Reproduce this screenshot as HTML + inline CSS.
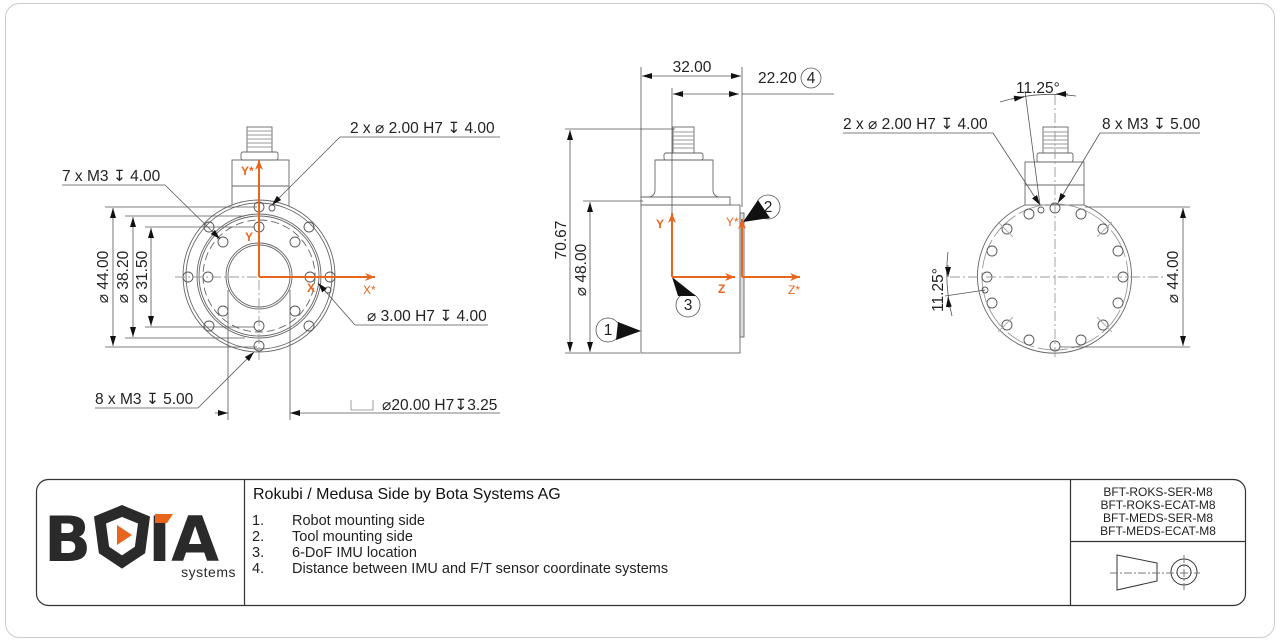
<!DOCTYPE html>
<html><head><meta charset="utf-8"><style>
html,body{margin:0;padding:0;background:#fff;width:1280px;height:643px;overflow:hidden}
svg{display:block}
text{font-family:"Liberation Sans","DejaVu Sans",sans-serif}
.d{font-size:15.5px;fill:#222}
.o{fill:#e8651e;font-size:12px;font-weight:bold}
</style></head><body>
<svg width="1280" height="643" viewBox="0 0 1280 643" xmlns="http://www.w3.org/2000/svg">
<defs>
<marker id="a" viewBox="0 0 10 6" refX="10" refY="3" markerWidth="10" markerHeight="6" orient="auto-start-reverse" markerUnits="userSpaceOnUse"><path d="M0,0L10,3L0,6z" fill="#111"/></marker>
<marker id="oa" viewBox="0 0 10 8" refX="10" refY="4" markerWidth="10" markerHeight="8" orient="auto" markerUnits="userSpaceOnUse"><path d="M0,0L10,4L0,8L3,4z" fill="#e8651e"/></marker>
</defs>
<rect x="5.5" y="3.5" width="1269" height="634" rx="14" fill="none" stroke="#ccc"/>

<!-- LEFT VIEW -->
<g fill="none" stroke="#666" stroke-width="0.9">
<rect x="232" y="160" width="57" height="47"/>
<line x1="232" y1="186" x2="289" y2="186"/>
<rect x="241" y="152" width="37" height="8" rx="2"/>
<rect x="247" y="127" width="25" height="25"/>
<path d="M247,131h25M247,135h25M247,139h25M247,143h25M247,147h25" stroke="#999"/>
<circle cx="259" cy="276" r="76" fill="#fff"/>
<circle cx="259" cy="276" r="73"/>
<circle cx="259" cy="276" r="62"/>
<circle cx="259" cy="276" r="60"/>
<circle cx="259" cy="276" r="56" stroke-dasharray="8 4"/>
<circle cx="259" cy="276" r="33"/>
<circle cx="259" cy="276" r="31"/>
<g stroke="#555">
<circle cx="259" cy="207" r="5"/><circle cx="259" cy="346" r="5"/><circle cx="188" cy="277" r="5"/><circle cx="330" cy="277" r="5"/>
<circle cx="209" cy="227" r="5"/><circle cx="309" cy="227" r="5"/><circle cx="209" cy="326" r="5"/><circle cx="309" cy="326" r="5"/>
<circle cx="259" cy="227" r="5"/><circle cx="259" cy="326" r="5"/><circle cx="208" cy="277" r="5"/><circle cx="310" cy="277" r="5"/>
<circle cx="223" cy="242" r="5"/><circle cx="295" cy="242" r="5"/><circle cx="223" cy="311" r="5"/><circle cx="295" cy="311" r="5"/>
<circle cx="272" cy="208" r="3"/><circle cx="328" cy="290" r="3"/>
</g>
<path d="M175,277h170M259,190v170" stroke="#999" stroke-dasharray="10 3 2 3"/>
</g>
<!-- left dims -->
<g stroke="#555" stroke-width="0.8" fill="none">
<path d="M105,207h152M125,216h120M145,227h110M105,347h152M125,338h120M145,327h110"/>
<line x1="113" y1="208" x2="113" y2="346" marker-start="url(#a)" marker-end="url(#a)"/>
<line x1="133" y1="217" x2="133" y2="337" marker-start="url(#a)" marker-end="url(#a)"/>
<line x1="151" y1="228" x2="151" y2="326" marker-start="url(#a)" marker-end="url(#a)"/>
<path d="M228,290v130M290,290v130"/>
<line x1="215" y1="413" x2="228" y2="413" marker-end="url(#a)"/>
<line x1="500" y1="413" x2="290" y2="413" marker-end="url(#a)"/>
<path d="M340,137h160" /><line x1="340" y1="137" x2="272" y2="205" marker-end="url(#a)"/>
<path d="M62,185h103"/><line x1="165" y1="185" x2="220" y2="239" marker-end="url(#a)"/>
<path d="M355,325h133"/><line x1="355" y1="325" x2="318" y2="283" marker-end="url(#a)"/>
<path d="M95,408h103"/><line x1="198" y1="408" x2="254" y2="352" marker-end="url(#a)"/>
<path d="M351,400v10h22v-10" stroke="#888"/>
</g>
<text class="d" x="350" y="133">2 x ⌀ 2.00 H7 ↧ 4.00</text>
<text class="d" x="62" y="181">7 x M3 ↧ 4.00</text>
<text class="d" x="367" y="321">⌀ 3.00 H7 ↧ 4.00</text>
<text class="d" x="95" y="404">8 x M3 ↧ 5.00</text>
<text class="d" x="382" y="410">⌀20.00 H7↧3.25</text>
<text class="d" transform="translate(108,277) rotate(-90)" text-anchor="middle">⌀ 44.00</text>
<text class="d" transform="translate(128,277) rotate(-90)" text-anchor="middle">⌀ 38.20</text>
<text class="d" transform="translate(147,277) rotate(-90)" text-anchor="middle">⌀ 31.50</text>
<g stroke="#e8651e" stroke-width="2" fill="none">
<line x1="259" y1="277" x2="259" y2="160" marker-end="url(#oa)"/>
<line x1="259" y1="277" x2="375" y2="277" marker-end="url(#oa)"/>
</g>
<text class="o" x="241" y="175">Y*</text><text class="o" x="245" y="241">Y</text>
<text class="o" x="307" y="292">X</text><text class="o" x="363" y="294" style="font-weight:normal">X*</text>

<!-- MIDDLE VIEW -->
<g fill="none" stroke="#666" stroke-width="0.9">
<rect x="641" y="205" width="99" height="148"/>
<rect x="740" y="213" width="4" height="124" fill="#ddd"/>
<path d="M641,197h89v8h-89z"/>
<path d="M655,190v-30h58v30 q0,6 6,7 M655,190q0,6 -6,7"/>
<rect x="664" y="153" width="39" height="7" rx="2"/>
<rect x="673" y="127" width="21" height="26"/>
<path d="M673,132h21M673,136h21M673,140h21M673,144h21M673,148h21" stroke="#999"/>
</g>
<g stroke="#555" stroke-width="0.8" fill="none">
<path d="M641,67v130M742,67v140M672,88v188M565,129h110M583,201h60M565,353h75M742,94h92"/>
<line x1="642" y1="76" x2="741" y2="76" marker-start="url(#a)" marker-end="url(#a)"/>
<line x1="673" y1="94" x2="739" y2="94" marker-start="url(#a)" marker-end="url(#a)"/>
<line x1="570" y1="130" x2="570" y2="352" marker-start="url(#a)" marker-end="url(#a)"/>
<line x1="590" y1="202" x2="590" y2="352" marker-start="url(#a)" marker-end="url(#a)"/>
<circle cx="811" cy="78" r="10"/>
<circle cx="608" cy="330" r="12"/><circle cx="768" cy="207" r="12"/><circle cx="688" cy="305" r="12"/>
</g>
<path d="M618,322L641,331L616,340z" fill="#111"/>
<path d="M758,200L743,222L770,218z" fill="#111"/>
<path d="M678,296L672,277L696,296z" fill="#111"/>
<text class="d" x="692" y="72" text-anchor="middle">32.00</text>
<text class="d" x="758" y="83">22.20</text>
<text class="d" x="811" y="83" text-anchor="middle">4</text>
<text class="d" x="608" y="335" text-anchor="middle" font-size="13">1</text>
<text class="d" x="768" y="212" text-anchor="middle" font-size="13">2</text>
<text class="d" x="688" y="310" text-anchor="middle" font-size="13">3</text>
<text class="d" transform="translate(566,240) rotate(-90)" text-anchor="middle">70.67</text>
<text class="d" transform="translate(586,270) rotate(-90)" text-anchor="middle">⌀ 48.00</text>
<g stroke="#e8651e" stroke-width="2" fill="none">
<line x1="672" y1="277" x2="672" y2="213" marker-end="url(#oa)"/>
<line x1="672" y1="277" x2="735" y2="277" marker-end="url(#oa)"/>
<line x1="742" y1="277" x2="742" y2="219" marker-end="url(#oa)"/>
<line x1="742" y1="277" x2="800" y2="277" marker-end="url(#oa)"/>
</g>
<text class="o" x="656" y="228">Y</text><text class="o" x="718" y="293">Z</text>
<text class="o" x="726" y="226" style="font-weight:normal">Y*</text><text class="o" x="788" y="294" style="font-weight:normal">Z*</text>

<!-- RIGHT VIEW -->
<g fill="none" stroke="#666" stroke-width="0.9">
<rect x="1025" y="162" width="59" height="43"/>
<path d="M1025,185h59"/>
<rect x="1037" y="153" width="36" height="9" rx="2"/>
<rect x="1043" y="127" width="25" height="26"/>
<path d="M1043,132h25M1043,136h25M1043,140h25M1043,144h25M1043,148h25" stroke="#999"/>
<path d="M1025,205 A77,77 0 1 0 1084,205" />
<circle cx="1055" cy="277" r="73" stroke="#999" stroke-dasharray="30 4"/>
<g stroke="#555">
<circle cx="1055" cy="208" r="5"/><circle cx="1081" cy="214" r="5"/><circle cx="1103" cy="229" r="5"/><circle cx="1118" cy="251" r="5"/><circle cx="1123" cy="277" r="5"/><circle cx="1118" cy="303" r="5"/><circle cx="1103" cy="325" r="5"/><circle cx="1081" cy="340" r="5"/><circle cx="1055" cy="346" r="5"/>
<circle cx="1029" cy="214" r="5"/><circle cx="1007" cy="229" r="5"/><circle cx="992" cy="251" r="5"/><circle cx="987" cy="277" r="5"/><circle cx="992" cy="303" r="5"/><circle cx="1007" cy="325" r="5"/><circle cx="1029" cy="340" r="5"/>
<circle cx="1041" cy="210" r="3"/><circle cx="985" cy="290" r="3"/>
</g>
<path d="M950,277h215M1055,95v265" stroke="#999" stroke-dasharray="10 3 2 3"/>
<path d="M998,222l15,15M1112,222l-15,15M998,332l15,-15M1112,332l-15,-15" stroke="#aaa"/>
</g>
<g stroke="#555" stroke-width="0.8" fill="none">
<path d="M1085,207h105M1060,347h130"/>
<line x1="1183" y1="208" x2="1183" y2="346" marker-start="url(#a)" marker-end="url(#a)"/>
<path d="M843,133h150"/><line x1="993" y1="133" x2="1040" y2="205" marker-end="url(#a)"/>
<path d="M1100,133h100"/><line x1="1100" y1="133" x2="1058" y2="203" marker-end="url(#a)"/>
<path d="M1000,102 A180,180 0 0 1 1076,96"/>
<line x1="1025" y1="91" x2="1040" y2="205"/>
<line x1="1012" y1="99" x2="1024" y2="97" marker-end="url(#a)"/>
<line x1="1068" y1="94" x2="1056" y2="94" marker-end="url(#a)"/>
<path d="M948,252 A180,180 0 0 0 952,316"/>
<line x1="945" y1="296" x2="985" y2="290"/>
<line x1="948" y1="265" x2="948" y2="277" marker-end="url(#a)"/>
<line x1="949" y1="308" x2="948" y2="297" marker-end="url(#a)"/>
</g>
<text class="d" x="843" y="129">2 x ⌀ 2.00 H7 ↧ 4.00</text>
<text class="d" x="1102" y="129">8 x M3 ↧ 5.00</text>
<text class="d" x="1016" y="93">11.25°</text>
<text class="d" transform="translate(943,290) rotate(-90)" text-anchor="middle">11.25°</text>
<text class="d" transform="translate(1178,277) rotate(-90)" text-anchor="middle">⌀ 44.00</text>

<!-- TITLE BLOCK -->
<rect x="36.5" y="479.5" width="1209" height="126" rx="12" fill="none" stroke="#333" stroke-width="1.2"/>
<path d="M244.5,480v125M1070.5,480v125M1070,541.5h175" stroke="#333" stroke-width="1.2"/>
<text x="253" y="499" style="font-size:16px;fill:#111">Rokubi / Medusa Side by Bota Systems AG</text>
<g style="font-size:14.5px;fill:#222">
<text x="252" y="525">1.</text><text x="292" y="525">Robot mounting side</text>
<text x="252" y="541">2.</text><text x="292" y="541">Tool mounting side</text>
<text x="252" y="557">3.</text><text x="292" y="557">6-DoF IMU location</text>
<text x="252" y="573">4.</text><text x="292" y="573">Distance between IMU and F/T sensor coordinate systems</text>
</g>
<g style="font-size:12px;fill:#222" text-anchor="middle">
<text x="1158" y="496">BFT-ROKS-SER-M8</text>
<text x="1158" y="509">BFT-ROKS-ECAT-M8</text>
<text x="1158" y="522">BFT-MEDS-SER-M8</text>
<text x="1158" y="535">BFT-MEDS-ECAT-M8</text>
</g>
<g fill="none" stroke="#333" stroke-width="1">
<path d="M1117,555L1157,563V581L1117,590Z"/>
<circle cx="1184" cy="572" r="13"/><circle cx="1184" cy="572" r="7"/>
<path d="M1110,573h90M1184,555v35" stroke="#777" stroke-dasharray="8 2 2 2"/>
</g>
<!-- logo -->
<text x="44" y="561" style="font-size:62px;font-weight:900;fill:#2a2a2a;letter-spacing:-2px;font-family:'DejaVu Sans','Liberation Sans',sans-serif">B</text>
<path d="M100,520 l22,-9 l22,9 l-4,30 l-18,12 l-18,-12z" fill="none" stroke="#2a2a2a" stroke-width="11"/>
<path d="M117,525 l15,10 l-15,10z" fill="#e8651e"/>
<text x="148" y="561" style="font-size:62px;font-weight:900;fill:#2a2a2a;font-family:'DejaVu Sans','Liberation Sans',sans-serif">IA</text>
<path d="M155,514h18l-6,9h-12z" fill="#e8651e"/>
<text x="236" y="577" text-anchor="end" style="font-size:14px;fill:#2a2a2a;letter-spacing:0.5px">systems</text>
</svg>
</body></html>
